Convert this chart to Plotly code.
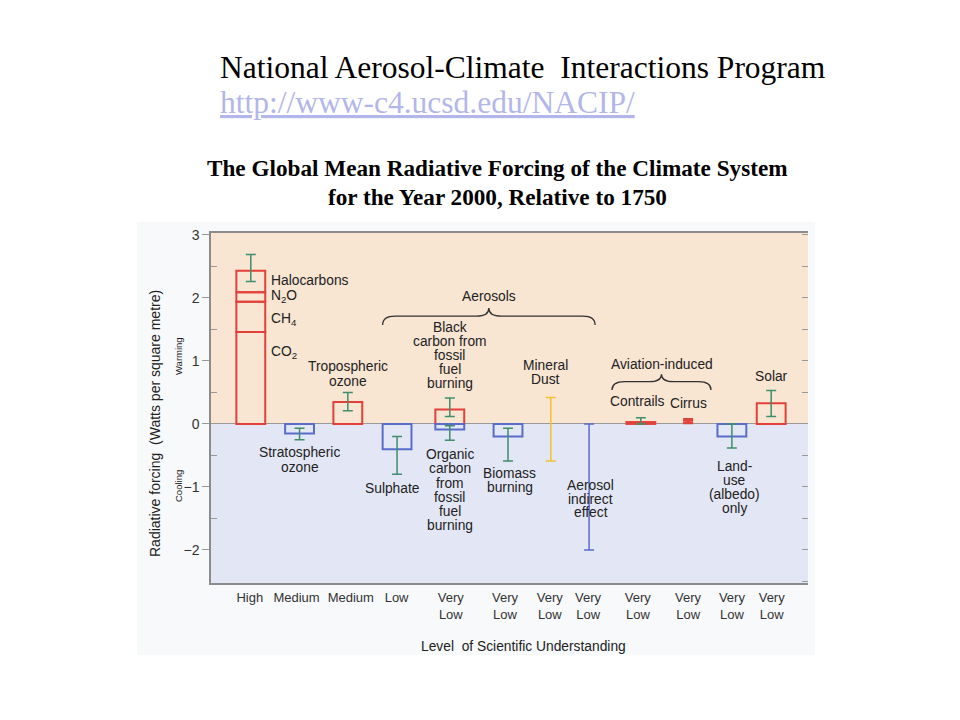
import plotly.graph_objects as go

# ---------------- data ----------------
understanding = ["High", "Medium", "Medium", "Low", "Very<br>Low", "Very<br>Low", "Very<br>Low",
                 "Very<br>Low", "Very<br>Low", "Very<br>Low", "Very<br>Low", "Very<br>Low"]

ghg_names = ["CO<sub>2</sub>", "CH<sub>4</sub>", "N<sub>2</sub>O", "Halocarbons"]
ghg_values = [1.46, 0.48, 0.15, 0.34]
ghg_range = [2.26, 2.69]

# name, value, low, high
warming_bars = [("Tropospheric ozone", 0.35, 0.21, 0.50),
                ("Black carbon", 0.23, 0.12, 0.41),
                ("Contrails", 0.03, 0.00, 0.10),
                ("Solar", 0.33, 0.12, 0.53)]
cooling_bars = [("Stratospheric ozone", -0.15, -0.25, -0.07),
                ("Sulphate", -0.40, -0.80, -0.20),
                ("Organic carbon", -0.09, -0.26, -0.03),
                ("Biomass burning", -0.20, -0.59, -0.07),
                ("Land-use", -0.20, -0.38, 0.00)]
range_only = [("Mineral Dust", -0.59, 0.42),
              ("Aerosol indirect effect", -2.0, 0.0),
              ("Cirrus", 0.02, 0.07)]

# ---------------- layout positions (x slot of each column) ----------------
POS = [0.80, 1.78, 2.75, 3.74, 4.80, 5.97, 6.83, 7.60, 8.64, 9.59, 10.47, 11.26]
TICK_POS = [0.78, 1.72, 2.81, 3.73, 4.82, 5.91, 6.81, 7.58, 8.58, 9.59, 10.47, 11.27]
slot = {"GHG": 0, "Stratospheric ozone": 1, "Tropospheric ozone": 2, "Sulphate": 3,
        "Black carbon": 4, "Organic carbon": 4, "Biomass burning": 5, "Mineral Dust": 6,
        "Aerosol indirect effect": 7, "Contrails": 8, "Cirrus": 9, "Land-use": 10, "Solar": 11}

RED = "#e2413a"
BLUE = "#5a6cc9"
GREEN = "#3f8e6c"
YELLOW = "#f2c12e"
BW = 0.58
YR = [-2.524, 3.03]
PXU = 350 / (YR[1] - YR[0])  # pixels per data unit
FONT = "Liberation Sans, Arial, sans-serif"
OFF = 8  # page body margin in the browser


def px(x):
    return (x - OFF) / 960


def py(y):
    return 1 - (y - OFF) / 720


fig = go.Figure()

# greenhouse gas stacked bar
bases, acc = [], 0.0
for v in ghg_values:
    bases.append(acc)
    acc += v
fig.add_trace(go.Bar(x=[POS[0]] * 4, y=ghg_values, base=bases, width=BW,
                     marker=dict(color="rgba(0,0,0,0)", line=dict(color=RED, width=2)),
                     hoverinfo="skip", showlegend=False))
fig.add_trace(go.Scatter(x=[POS[0]], y=[sum(ghg_values)], mode="markers", marker=dict(size=0.1, color=GREEN),
                         error_y=dict(type="data", symmetric=False,
                                      array=[ghg_range[1] - sum(ghg_values)],
                                      arrayminus=[sum(ghg_values) - ghg_range[0]],
                                      color=GREEN, thickness=1.5, width=5),
                         hoverinfo="skip", showlegend=False))

for group, col in ((warming_bars, RED), (cooling_bars, BLUE)):
    xs = [POS[slot[n]] for n, v, lo, hi in group]
    vals = [v for n, v, lo, hi in group]
    fig.add_trace(go.Bar(x=xs, y=vals, width=BW,
                         marker=dict(color="rgba(0,0,0,0)", line=dict(color=col, width=2)),
                         hoverinfo="skip", showlegend=False))
    fig.add_trace(go.Scatter(x=xs, y=vals, mode="markers", marker=dict(size=0.1, color=GREEN),
                             error_y=dict(type="data", symmetric=False,
                                          array=[hi - v for n, v, lo, hi in group],
                                          arrayminus=[v - lo for n, v, lo, hi in group],
                                          color=GREEN, thickness=1.5, width=5),
                             hoverinfo="skip", showlegend=False))

for (n, lo, hi), col, th in zip(range_only, (YELLOW, BLUE, RED), (1.5, 1.5, 3)):
    mid = (lo + hi) / 2
    fig.add_trace(go.Scatter(x=[POS[slot[n]]], y=[mid], mode="markers", marker=dict(size=0.1, color=col),
                             error_y=dict(type="data", symmetric=True, array=[hi - mid],
                                          color=col, thickness=th, width=5),
                             hoverinfo="skip", showlegend=False))

# invisible trace for right-hand axis
fig.add_trace(go.Scatter(x=[POS[0]], y=[0], yaxis="y2", mode="markers",
                         marker=dict(size=0.1, opacity=0), hoverinfo="skip", showlegend=False))

# ---------------- backgrounds ----------------
shapes = [
    dict(type="rect", xref="paper", yref="paper", x0=px(137), x1=px(815),
         y0=py(655), y1=py(222), fillcolor="#f8f9fb", line=dict(width=0), layer="below"),
    dict(type="rect", xref="x", yref="y", x0=0, x1=12, y0=0, y1=YR[1],
         fillcolor="#f8e5d2", line=dict(width=0), layer="below"),
    dict(type="rect", xref="x", yref="y", x0=0, x1=12, y0=YR[0], y1=0,
         fillcolor="#e3e7f5", line=dict(width=0), layer="below"),
]


def brace(x0, x1, yend, yh, ytip):
    xc = (x0 + x1) / 2
    d = 0.25
    return (f"M {x0},{yend} Q {x0},{yh} {x0 + d},{yh} L {xc - d},{yh} Q {xc},{yh} {xc},{ytip} "
            f"Q {xc},{yh} {xc + d},{yh} L {x1 - d},{yh} Q {x1},{yh} {x1},{yend}")


shapes.append(dict(type="path", xref="x", yref="y", line=dict(color="#333", width=1.3),
                   path=brace(POS[3] - 0.29, POS[7] + 0.12, 1.57, 1.71, 1.84)))
shapes.append(dict(type="path", xref="x", yref="y", line=dict(color="#333", width=1.3),
                   path=brace(POS[8] - 0.58, POS[9] + 0.46, 0.54, 0.67, 0.79)))

# ---------------- annotations ----------------
ann = []
LS = 13.8


def lab(x, y, text, size=LS, xanchor="center", spacing=14.2, color="#222"):
    lines = text.split("|")
    n = len(lines)
    for i, t in enumerate(lines):
        yy = y + ((n - 1) / 2 - i) * spacing / PXU
        ann.append(dict(x=x, y=yy, xref="x", yref="y", text=t, showarrow=False, xanchor=xanchor,
                        yanchor="middle", align="center",
                        font=dict(family=FONT, size=size, color=color)))


gx = POS[0] + 0.36
lab(gx, 2.27, "Halocarbons", xanchor="left")
lab(gx, 2.03, ghg_names[2], xanchor="left")
lab(gx, 1.65, ghg_names[1], xanchor="left")
lab(gx, 1.14, ghg_names[0], xanchor="left")
lab(5.58, 2.02, "Aerosols")
lab(POS[2], 0.80, "Tropospheric|ozone", spacing=15)
lab(POS[4], 1.08, "Black|carbon from|fossil|fuel|burning", spacing=14)
lab(6.73, 0.81, "Mineral|Dust", spacing=14)
lab(9.07, 0.95, "Aviation-induced")
lab(POS[8] - 0.06, 0.354, "Contrails")
lab(POS[9], 0.33, "Cirrus")
lab(POS[11], 0.75, "Solar")
lab(POS[1], -0.57, "Stratospheric|ozone", spacing=14.5)
lab(3.64, -1.03, "Sulphate")
lab(POS[4], -1.05, "Organic|carbon|from|fossil|fuel|burning", spacing=14.1)
lab(6.00, -0.905, "Biomass|burning", spacing=14)
lab(7.63, -1.195, "Aerosol|indirect|effect", spacing=13.5)
lab(10.53, -1.01, "Land-|use|(albedo)|only", spacing=14.2)


def pap(text, x, y, size, family=FONT, color="#222", angle=0, xanchor="center", yanchor="middle"):
    ann.append(dict(x=px(x), y=py(y), xref="paper", yref="paper", text=text, showarrow=False,
                    textangle=angle, xanchor=xanchor, yanchor=yanchor,
                    font=dict(family=family, size=size, color=color)))


pap("Radiative forcing  (Watts per square metre)", 155, 424, 14, angle=-90)
pap("Warming", 178, 356, 9.5, angle=-90)
pap("Cooling", 178, 486, 9.5, angle=-90)
pap("Level  of Scientific Understanding", 523, 646, 13.8)

SERIF = "Liberation Serif, Times New Roman, serif"
pap("National Aerosol-Climate  Interactions Program", 218, 67, 31.5, family=SERIF, color="#000", xanchor="left")
pap("<u>http://www-c4.ucsd.edu/NACIP/</u>", 218, 103, 31.5, family=SERIF, color="#b3b6ea", xanchor="left")
pap("<b>The Global Mean Radiative Forcing of the Climate System</b>", 497, 168, 23.2, family=SERIF, color="#000")
pap("<b>for the Year 2000, Relative to 1750</b>", 497, 197, 23.2, family=SERIF, color="#000")

fig.update_layout(
    width=960, height=720, autosize=False,
    margin=dict(l=0, r=0, t=0, b=0, autoexpand=False),
    paper_bgcolor="white", plot_bgcolor="rgba(0,0,0,0)",
    barmode="overlay", showlegend=False,
    shapes=shapes, annotations=ann,
    xaxis=dict(domain=[px(211), px(808)], range=[0, 12], tickmode="array", tickvals=TICK_POS,
               ticktext=understanding, ticks="", showgrid=False, zeroline=False, automargin=False,
               tickangle=0, showline=True, linecolor="#8c8c8c", linewidth=1.5, mirror=True,
               tickfont=dict(family=FONT, size=13, color="#333"), ticklabelstandoff=2),
    yaxis=dict(domain=[py(583), py(233)], range=YR, tickmode="array", automargin=False,
               tickvals=[-2, -1, 0, 1, 2, 3], ticktext=["\u22122", "\u22121", "0", "1", "2", "3"],
               ticks="outside", ticklen=7, tickcolor="#999", showgrid=False,
               zeroline=True, zerolinecolor="#9a9a9a", zerolinewidth=1,
               showline=True, linecolor="#8c8c8c", linewidth=1.5,
               minor=dict(tickmode="array", tickvals=[-1.5, -0.5, 0.5, 1.5, 2.5], ticks="inside",
                          ticklen=6, tickcolor="#999", showgrid=False),
               tickfont=dict(family=FONT, size=14, color="#333")),
    yaxis2=dict(overlaying="y", side="right", range=YR, dtick=0.5, ticks="inside", ticklen=6,
                tickcolor="#999", showticklabels=False, showgrid=False, zeroline=False,
                showline=False, automargin=False),
)

fig.write_html("out.html")
